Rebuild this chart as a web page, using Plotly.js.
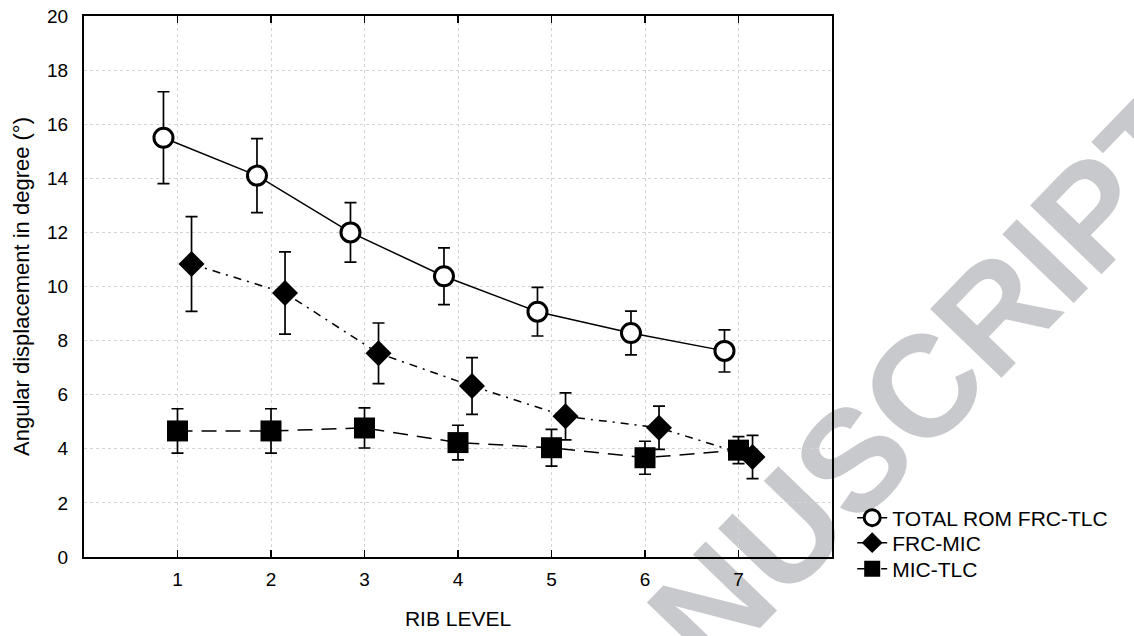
<!DOCTYPE html>
<html>
<head>
<meta charset="utf-8">
<script src="https://cdn.plot.ly/plotly-3.0.1.min.js"></script>
<style>
  html, body { margin: 0; padding: 0; background: #ffffff; }
  #wrap { position: relative; width: 1134px; height: 636px; overflow: hidden; background: #ffffff; }
  #wm { position: absolute; left: 854px; top: 460px; transform: translate(-50%, -50%) rotate(-46deg);
        font-family: "Liberation Sans", Arial, sans-serif; font-weight: bold; font-size: 144px;
        color: #c8c9cc; white-space: nowrap; z-index: 0; line-height: 1; }
  #chart { position: absolute; left: 0; top: 0; width: 1134px; height: 636px; z-index: 1; }
</style>
</head>
<body>
<div id="wrap">
  <div id="wm">MANUSCRIPT</div>
  <div id="chart"></div>
</div>
<script>
const ribLevels = [1, 2, 3, 4, 5, 6, 7];

const totalMean = [15.5, 14.1, 12.0, 10.38, 9.07, 8.28, 7.62];
const totalErr  = [1.7, 1.37, 1.1, 1.05, 0.9, 0.81, 0.78];

const frcMicMean = [10.83, 9.76, 7.53, 6.32, 5.2, 4.78, 3.7];
const frcMicErr  = [1.75, 1.52, 1.12, 1.05, 0.87, 0.8, 0.8];

const micTlcMean = [4.66, 4.66, 4.77, 4.23, 4.04, 3.67, 3.95];
const micTlcErr  = [0.82, 0.82, 0.74, 0.64, 0.68, 0.61, 0.5];

const seriesNames = ["TOTAL ROM FRC-TLC", "FRC-MIC", "MIC-TLC"];
const xTickLabels = ["1", "2", "3", "4", "5", "6", "7"];

const FONT = "Liberation Sans, Arial, sans-serif";
const shift = (arr, d) => arr.map(v => v + d);
const errStyle = (a) => ({ type: "data", array: a, visible: true, color: "#000", thickness: 1.7, width: 6 });

const traces = [
  {
    x: shift(ribLevels, -0.15), y: totalMean, name: seriesNames[0], legend: "legend",
    type: "scatter", mode: "lines+markers",
    line: { color: "#000", width: 1.5, dash: "solid" },
    marker: { symbol: "circle", size: 19, color: "#fff", line: { color: "#000", width: 3 } },
    error_y: errStyle(totalErr)
  },
  {
    x: shift(ribLevels, 0.15), y: frcMicMean, name: seriesNames[1], legend: "legend2",
    type: "scatter", mode: "lines+markers",
    line: { color: "#000", width: 1.5, dash: "8px,6px,2px,6px" },
    marker: { symbol: "diamond", size: 20, color: "#000", line: { color: "#000", width: 0 } },
    error_y: errStyle(frcMicErr)
  },
  {
    x: ribLevels, y: micTlcMean, name: seriesNames[2], legend: "legend3",
    type: "scatter", mode: "lines+markers",
    line: { color: "#000", width: 1.5, dash: "15px,9px" },
    marker: { symbol: "square", size: 21, color: "#000", line: { color: "#000", width: 0 } },
    error_y: errStyle(micTlcErr)
  }
];

const gridStyle = { showgrid: true, gridcolor: "#d4d4d4", gridwidth: 1, griddash: "dot", zeroline: false };
const tickFont = { family: FONT, size: 19, color: "#000" };

const legendBase = (yc) => ({
  x: 1.027, xanchor: "left", y: yc, yanchor: "middle",
  bgcolor: "rgba(0,0,0,0)", borderwidth: 0,
  font: { family: FONT, size: 21, color: "#000" }, itemwidth: 30
});

const layout = {
  width: 1134, height: 636,
  margin: { l: 84, r: 302, t: 16, b: 79 },
  paper_bgcolor: "rgba(0,0,0,0)", plot_bgcolor: "rgba(0,0,0,0)",
  font: { family: FONT, size: 20, color: "#000" },
  xaxis: Object.assign({}, gridStyle, {
    range: [0, 8], tickmode: "array", tickvals: ribLevels, ticktext: xTickLabels,
    showline: true, linecolor: "#000", linewidth: 2, mirror: "ticks",
    ticks: "inside", ticklen: 7, tickwidth: 1.5, tickcolor: "#000",
    ticklabelstandoff: 4, tickfont: tickFont,
    title: { text: "RIB LEVEL", font: { family: FONT, size: 21 }, standoff: 23 }
  }),
  yaxis: Object.assign({}, gridStyle, {
    range: [0, 20], dtick: 2, tick0: 0,
    showline: true, linecolor: "#000", linewidth: 2, mirror: true,
    ticks: "", ticklabelstandoff: 10, tickfont: tickFont,
    title: { text: "Angular displacement in degree (°)", font: { family: FONT, size: 22 }, standoff: 11 }
  }),
  yaxis2: {
    overlaying: "y", side: "right", range: [0, 20], dtick: 2, tick0: 0,
    showgrid: false, zeroline: false, showline: false, showticklabels: false,
    ticks: "inside", ticklen: 7, tickwidth: 1.5, tickcolor: "#000"
  },
  showlegend: true,
  legend: legendBase(0.0721),
  legend2: legendBase(0.0259),
  legend3: legendBase(-0.0222)
};

Plotly.newPlot("chart", traces, layout, { displayModeBar: false, staticPlot: true });
</script>
</body>
</html>
